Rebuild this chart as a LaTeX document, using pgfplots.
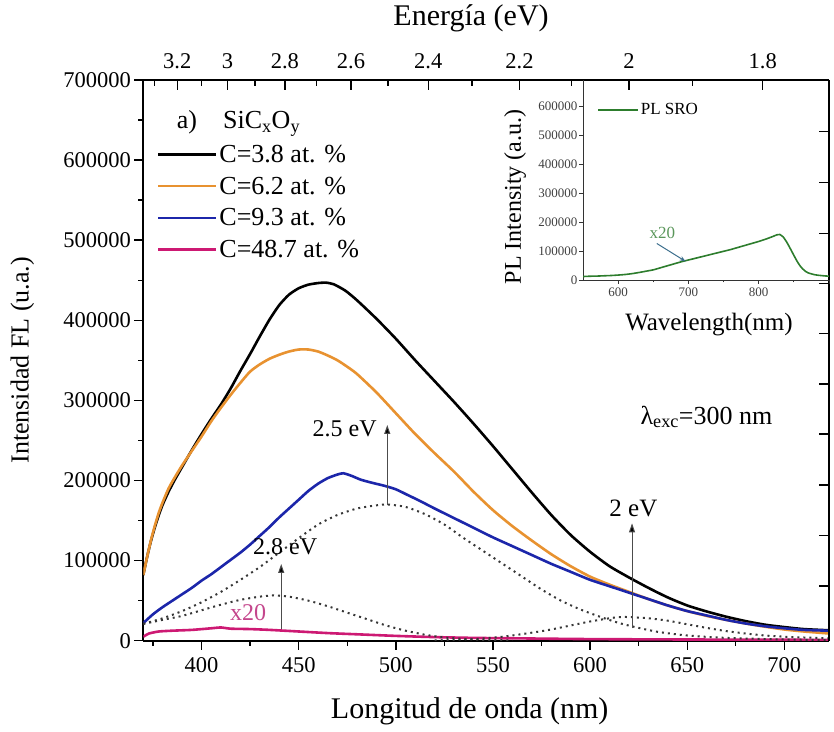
\documentclass[border=0pt]{standalone}
\usepackage{fontspec}
\setmainfont{Liberation Serif}
\usepackage{pgfplots}
\pgfplotsset{compat=1.18}
\usetikzlibrary{arrows.meta}

\definecolor{cOrange}{RGB}{232,146,48}
\definecolor{cBlue}{RGB}{28,38,170}
\definecolor{cMag}{RGB}{205,25,115}
\definecolor{cMagTxt}{RGB}{196,70,140}
\definecolor{cGreen}{RGB}{45,125,45}
\definecolor{cGreenTxt}{RGB}{90,150,90}
\definecolor{cSteel}{RGB}{60,110,140}
\definecolor{cDot}{RGB}{55,55,55}

\newcommand{\fs}[1]{\fontsize{#1bp}{#1bp}\selectfont}

\tikzset{
  fitcurve/.style={cDot, line width=2bp, dash pattern=on 2bp off 4bp},
  peakarrow/.style={draw=black!70, line width=1bp, -{Triangle[width=6bp,length=9bp,fill=black]}},
}

\begin{document}
\begin{tikzpicture}

% ---- main axis: bottom and left ----
\begin{axis}[
  at={(0,0)}, anchor=south west,
  scale only axis, width=685.7bp, height=560.7bp,
  xmin=370, xmax=723, ymin=0, ymax=700000,
  axis x line*=bottom, axis y line*=left,
  axis line style={line width=1.6bp, -},
  tick align=outside,
  major tick length=9bp, minor tick length=5bp,
  every tick/.style={black, line width=1.4bp},
  xtick={400,450,...,700}, minor xtick={375,425,...,675},
  ytick={0,100000,...,700000}, minor ytick={50000,150000,...,650000},
  scaled y ticks=false,
  /pgf/number format/fixed,
  /pgf/number format/precision=0,
  /pgf/number format/1000 sep={},
  /pgf/number format/assume math mode=true,
  tick label style={font=\fs{22.5}},
  xticklabel style={yshift=-4bp},
  xlabel={Longitud de onda (nm)},
  xlabel style={at={(axis description cs:0.476,0)}, anchor=center, yshift=-71bp, font=\fs{30}},
  ylabel={Intensidad FL (u.a.)},
  ylabel style={at={(axis description cs:-0.1765,0.5)}, anchor=center, font=\fs{26}},
  legend style={at={(axis description cs:0.0195,0.888)}, anchor=north west,
    draw=none, fill=none, font=\fs{26}, row sep=9bp, inner sep=0pt},
  legend cell align=left,
  legend image code/.code={\draw[#1] (0bp,0bp) -- (58bp,0bp);},
  every axis plot/.append style={smooth, tension=0.4},
]

\addplot[black, line width=2.6bp] coordinates {
(370,82000) (372,105000) (374,125000) (376,142000) (378,157000) (380,170000)
(383,186000) (386,200000) (390,217000) (395,238000) (400,258000) (405,277000)
(410,295000) (415,315000) (420,337000) (425,358000) (430,380000) (435,401000)
(440,419000) (445,432000) (450,440000) (455,444500) (460,446500) (464,447000)
(468,445000) (474,437000) (480,425000) (490,402000) (500,377000) (510,350000)
(520,324000) (530,298000) (540,271000) (550,243000) (560,214000) (570,185000)
(580,157000) (590,132000) (600,111000) (610,93000) (620,79000) (630,66000)
(640,54000) (650,44000) (660,36500) (670,30000) (680,24500) (690,20000)
(700,17000) (710,14500) (723,13000)
};
\addlegendentry{C=3.8 at. \%}

\addplot[cOrange, line width=2.6bp] coordinates {
(370,82000) (372,105000) (374,126000) (376,144000) (378,160000) (380,173000)
(383,190000) (386,203000) (390,219000) (395,237000) (400,255000) (405,274000)
(410,291000) (415,307000) (420,322000) (425,336000) (430,345000) (435,352000)
(440,357000) (445,361000) (450,363500) (455,363500) (460,361000) (465,356000)
(470,350000) (475,342000) (480,333000) (490,310000) (500,284000) (510,258000)
(520,234000) (530,211000) (540,186000) (550,163000) (560,143000) (570,125000)
(580,108000) (590,93000) (600,80000) (610,70000) (620,61000) (630,52000)
(640,44000) (650,37000) (660,31000) (670,26000) (680,21500) (690,17500)
(700,14000) (710,11500) (723,9000)
};
\addlegendentry{C=6.2 at. \%}

\addplot[cBlue, line width=2.6bp] coordinates {
(370,22000) (375,33000) (380,42000) (385,50000) (390,58000) (395,66000)
(400,75000) (405,83000) (410,92000) (415,101000) (420,110000) (425,120000)
(430,131000) (435,142000) (440,154000) (445,165000) (450,176000) (455,187000)
(460,196000) (465,203000) (470,207500) (473,209000) (477,206000) (482,201000)
(488,197000) (494,193500) (500,189000) (506,182000) (512,175000) (520,165000)
(530,153000) (540,141000) (550,129000) (560,118000) (570,107000) (580,96000)
(590,86000) (600,76000) (610,68000) (620,60000) (630,52000) (640,44000)
(650,37000) (660,31500) (670,26000) (680,21500) (690,18000) (700,15500)
(710,13500) (723,12500)
};
\addlegendentry{C=9.3 at. \%}

\addplot[cMag, line width=2.6bp] coordinates {
(370,5000) (373,9000) (378,11500) (385,12500) (395,13500) (405,15500)
(410,16500) (415,15000) (425,14500) (435,13500) (450,11500) (465,9500)
(480,8000) (500,6000) (520,4500) (540,3500) (560,3000) (600,2000)
(650,1500) (700,1200) (723,1000)
};
\addlegendentry{C=48.7 at. \%}

% fitted components
\addplot[fitcurve, forget plot] coordinates {
(370,21000) (380,26000) (390,31000) (400,38000) (410,45000) (420,51000)
(430,55000) (437,56500) (445,55000) (455,50000) (465,43000) (475,35000)
(485,27000) (495,19000) (505,12500) (515,7500) (525,4000) (540,1500) (560,300)
};
\addplot[fitcurve, forget plot] coordinates {
(370,21000) (380,28000) (390,37000) (400,48000) (410,61000) (420,76000)
(430,92000) (440,110000) (450,128000) (460,145000) (470,157000) (480,165000)
(490,169000) (496,170000) (505,167000) (515,158000) (525,145000) (535,128000)
(545,112000) (555,96000) (565,80000) (575,64000) (585,50000) (595,39000)
(605,30000) (615,22000) (625,16000) (635,11000) (650,6500) (670,3500)
(700,1500) (723,800)
};
\addplot[fitcurve, forget plot] coordinates {
(520,300) (540,2000) (555,5000) (570,10000) (580,14000) (590,19000)
(600,24000) (610,28000) (615,29500) (620,29500) (630,28000) (640,25000)
(650,20500) (660,16000) (670,12000) (680,9000) (690,6500) (700,5000)
(710,4000) (723,3000)
};

% annotations
\draw[peakarrow] (axis cs:441,14600) -- (axis cs:441,95800);
\node[font=\fs{24}, anchor=base, inner sep=0pt] at (axis cs:443,107000) {2.8 eV};
\draw[peakarrow] (axis cs:495.6,168800) -- (axis cs:495.6,269300);
\node[font=\fs{24}, anchor=base east, inner sep=0pt] at (axis cs:490.2,255500) {2.5 eV};
\draw[peakarrow] (axis cs:621.6,15500) -- (axis cs:621.6,146500);
\node[font=\fs{25}, anchor=base, inner sep=0pt] at (axis cs:622.3,155600) {2 eV};
\node[font=\fs{24}, text=cMagTxt, anchor=base, inner sep=0pt] at (axis cs:423.9,25800) {x20};
\node[font=\fs{26}, anchor=base west, inner sep=0pt] at (axis cs:625.9,270500) {λ\textsubscript{exc}=300 nm};
\node[font=\fs{26}, anchor=base west, inner sep=0pt] at (axis cs:387.2,639000)
  {a)\hspace{26bp}SiC\textsubscript{x}O\textsubscript{y}};
\end{axis}

% ---- energy axis on top, ticks on the right ----
\begin{axis}[
  at={(0,0)}, anchor=south west,
  scale only axis, width=685.7bp, height=560.7bp,
  xmin=370, xmax=723, ymin=0, ymax=700000,
  axis x line*=top, axis y line*=right,
  axis line style={line width=1.6bp, -},
  tick align=inside,
  major tick length=10bp, minor tick length=6bp,
  every tick/.style={black, line width=1.4bp},
  xtick={387.5,413.33,442.86,476.92,516.67,563.64,620,688.89},
  xticklabels={3.2,3,2.8,2.6,2.4,2.2,2,1.8},
  minor xtick={375.76,400,427.59,459.26,496,539.13,590.48,652.63},
  ytick={68300,131600,194400,258000,320500,383500,445900,508600,571800,635500},
  yticklabels={}, scaled y ticks=false,
  tick label style={font=\fs{22.5}},
  xticklabel style={yshift=8bp},
  xlabel={Energía (eV)},
  xlabel style={at={(axis description cs:0.478,1)}, anchor=center, yshift=62bp, font=\fs{30}},
]
\end{axis}

% ---- inset ----
\begin{axis}[
  at={(439.7bp,360.7bp)}, anchor=south west,
  scale only axis, width=246bp, height=200bp,
  xmin=550, xmax=900, ymin=0, ymax=690000,
  axis x line*=bottom, axis y line*=left,
  axis line style={line width=0.8bp, black!80, -},
  tick align=outside,
  major tick length=4bp, minor tick length=2.5bp,
  every tick/.style={black!80, line width=0.8bp},
  xtick={600,700,800,900}, xticklabels={600,700,800,},
  minor xtick={650,750,850},
  ytick={0,100000,...,600000},
  scaled y ticks=false,
  /pgf/number format/fixed,
  /pgf/number format/precision=0,
  /pgf/number format/1000 sep={},
  /pgf/number format/assume math mode=true,
  tick label style={font=\fs{13}, text=black!75},
  yticklabel style={xshift=2bp},
  xlabel={Wavelength(nm)},
  xlabel style={at={(axis description cs:0.512,0)}, anchor=center, yshift=-45bp, font=\fs{25}},
  ylabel={PL Intensity (a.u.)},
  ylabel style={at={(axis description cs:-0.276,0.415)}, anchor=center, font=\fs{24}},
  legend style={at={(axis description cs:0.057,0.85)}, anchor=west,
    draw=none, fill=none, font=\fs{17}, inner sep=0pt},
  legend image code/.code={\draw[#1] (0bp,0bp) -- (40bp,0bp);},
]
\addplot[cGreen, line width=1.6bp, smooth, tension=0.4] coordinates {
(550,12000) (560,13000) (570,13500) (580,14500) (590,15500) (600,17000)
(610,19000) (620,22000) (630,26000) (640,30500) (650,35000) (660,42000)
(670,49000) (680,56000) (690,63000) (700,69000) (710,75000) (720,81000)
(730,87000) (740,93000) (750,99000) (760,105000) (770,112000) (780,119000)
(790,126000) (800,133000) (810,141000) (820,150000) (826,156000) (830,157000)
(835,148000) (840,130000) (845,108000) (850,85000) (855,63000) (860,45000)
(865,33000) (870,25000) (880,18000) (890,15000) (900,13000)
};
\addlegendentry{PL SRO}
\node[font=\fs{17}, text=cGreenTxt] at (axis cs:663,163800) {x20};
\draw[cSteel, line width=1bp, -{Stealth[length=6bp]}] (axis cs:655,126000) -- (axis cs:696,64200);
\end{axis}

\pgfresetboundingbox
\path[use as bounding box] (-143.3bp,-91.3bp) rectangle (690.7bp,640.7bp);
\end{tikzpicture}
\end{document}
